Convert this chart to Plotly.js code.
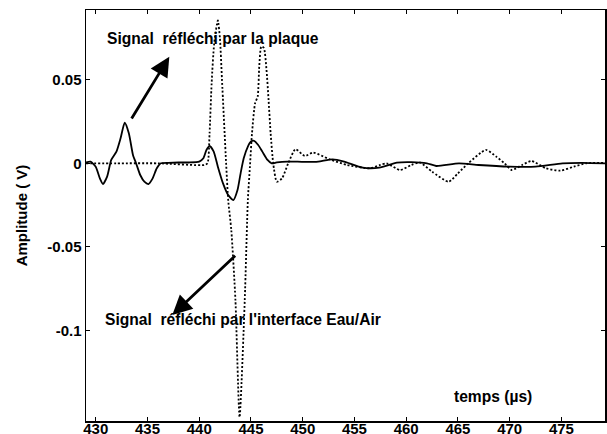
<!DOCTYPE html>
<html>
<head>
<meta charset="utf-8">
<script src="https://cdn.plot.ly/plotly-3.0.1.min.js"></script>
<style>html,body{margin:0;padding:0;background:#fff;}#chart{width:607px;height:434px;}</style>
</head>
<body>
<div id="chart"></div>
<script>
// Solid: signal réfléchi par la plaque
var plaqueT = [429.06,429.5,430.0,430.4,430.7,431.1,431.5,432.0,432.4,432.8,433.2,433.6,433.9,434.3,434.7,435.1,435.5,435.9,436.3,437.0,438.0,439.0,440.0,440.4,440.7,441.0,441.4,441.8,442.3,442.8,443.3,443.7,444.0,444.3,444.7,445.0,445.3,445.7,446.1,446.6,447.0,447.5,448.5,449.5,450.5,451.5,452.9,454.0,455.8,457.4,459.1,460.5,462.0,462.9,465.1,467.0,470.0,472.5,475.1,477.0,479.21];
var plaqueV = [0.0005,0.001,-0.002,-0.009,-0.0124,-0.008,0.002,0.007,0.015,0.0243,0.018,0.005,0,-0.007,-0.011,-0.0124,-0.009,-0.003,0,0.0003,0.0005,0.0005,0.001,0.003,0.008,0.0105,0.007,-0.002,-0.012,-0.019,-0.022,-0.016,-0.006,0.003,0.010,0.013,0.0135,0.011,0.007,0.002,0,0.0005,0.001,0.001,0.0008,0.001,0.0024,0.001,-0.0026,-0.0026,0.0004,0.0007,0.0,-0.0016,0,-0.001,-0.002,-0.002,0,0.0003,0];
// Dotted: signal réfléchi par l'interface Eau/Air
var interT = [429.06,432.0,436.0,440.5,440.8,441.0,441.2,441.45,441.8,442.0,442.2,442.6,442.8,443.1,443.5,443.9,444.4,444.7,444.9,445.1,445.4,445.65,445.8,446.0,446.25,446.5,446.7,446.9,447.15,447.5,448.0,448.6,449.3,450.2,451.0,452.6,454.3,456.5,457.5,458.1,459.4,460.5,461.3,462.5,464.1,465.0,466.0,467.7,468.7,469.5,470.2,471.2,472.1,473.5,474.9,476.2,477.4,479.21];
var interV = [0,0,0,-0.001,0,0.018,0.048,0.072,0.0855,0.075,0.05,0,-0.022,-0.04,-0.082,-0.152,-0.082,-0.022,-0.002,0.018,0.036,0.040,0.058,0.070,0.069,0.056,0.038,0.018,0,-0.011,-0.009,0,0.0084,0.0044,0.0064,0.0024,-0.001,-0.003,-0.001,0,-0.004,-0.001,0.0005,-0.005,-0.011,-0.006,0,0.008,0.004,0,-0.004,-0.001,0.0014,-0.003,-0.0044,-0.002,0,0.0003];

var xTickVals = [430,435,440,445,450,455,460,465,470,475];
var xTickText = ['430','435','440','445','450','455','460','465','470','475'];
var yTickVals = [-0.1,-0.05,0,0.05];
var yTickText = ['-0.1','-0.05','0','0.05'];

var label1 = 'Signal\u00a0\u00a0réfléchi par la plaque';
var label2 = 'Signal\u00a0\u00a0réfléchi par l\'interface Eau/Air';
var xLabel = 'temps (µs)';
var yLabel = 'Amplitude ( V)';

var fnt = {family: 'Arial, "Liberation Sans", sans-serif', size: 15, color: '#000', weight: 'bold'};
var fntA = {family: 'Arial, "Liberation Sans", sans-serif', size: 15.6, color: '#000', weight: 'bold'};

var traces = [
  {x: interT, y: interV, mode: 'lines', line: {color: '#000', width: 1.8, dash: '2px,2px', shape: 'spline', smoothing: 0.6}, hoverinfo: 'skip'},
  {x: plaqueT, y: plaqueV, mode: 'lines', line: {color: '#000', width: 1.8, shape: 'spline', smoothing: 0.6}, hoverinfo: 'skip'}
];

var layout = {
  width: 607, height: 434,
  margin: {l: 86, r: 2, t: 10, b: 13},
  paper_bgcolor: '#fff', plot_bgcolor: '#fff',
  showlegend: false,
  font: fnt,
  xaxis: {
    range: [429.06, 479.21], tickvals: xTickVals, ticktext: xTickText,
    ticks: 'inside', ticklen: 4, tickwidth: 1, tickcolor: '#000',
    showline: true, linecolor: '#000', linewidth: 1.5, mirror: 'ticks',
    showgrid: false, zeroline: false, tickfont: fnt, ticklabelstandoff: -7
  },
  yaxis: {
    range: [-0.1543, 0.0918], tickvals: yTickVals, ticktext: yTickText,
    ticks: 'inside', ticklen: 4, tickwidth: 1, tickcolor: '#000',
    showline: true, linecolor: '#000', linewidth: 1.5, mirror: 'ticks',
    showgrid: false, zeroline: false, tickfont: fnt,
    title: {text: yLabel, font: fnt, standoff: 16}
  },
  annotations: [
    {x: 437.11, y: 0.0638, ax: 433.38, ay: 0.0259, xref: 'x', yref: 'y', axref: 'x', ayref: 'y',
     text: '', showarrow: true, arrowhead: 2, arrowsize: 1.4, arrowwidth: 2.8, arrowcolor: '#000'},
    {x: 437.40, y: -0.0908, ax: 443.62, ay: -0.0545, xref: 'x', yref: 'y', axref: 'x', ayref: 'y',
     text: '', showarrow: true, arrowhead: 2, arrowsize: 1.4, arrowwidth: 2.8, arrowcolor: '#000'},
    {x: 430.93, y: 0.0749, xref: 'x', yref: 'y', xanchor: 'left', yanchor: 'middle', text: label1, showarrow: false, font: fntA},
    {x: 430.68, y: -0.0934, xref: 'x', yref: 'y', xanchor: 'left', yanchor: 'middle', text: label2, showarrow: false, font: fntA},
    {x: 464.38, y: -0.1398, xref: 'x', yref: 'y', xanchor: 'left', yanchor: 'middle', text: xLabel, showarrow: false, font: fntA}
  ]
};

Plotly.newPlot('chart', traces, layout, {staticPlot: true, displayModeBar: false});
</script>
</body>
</html>
